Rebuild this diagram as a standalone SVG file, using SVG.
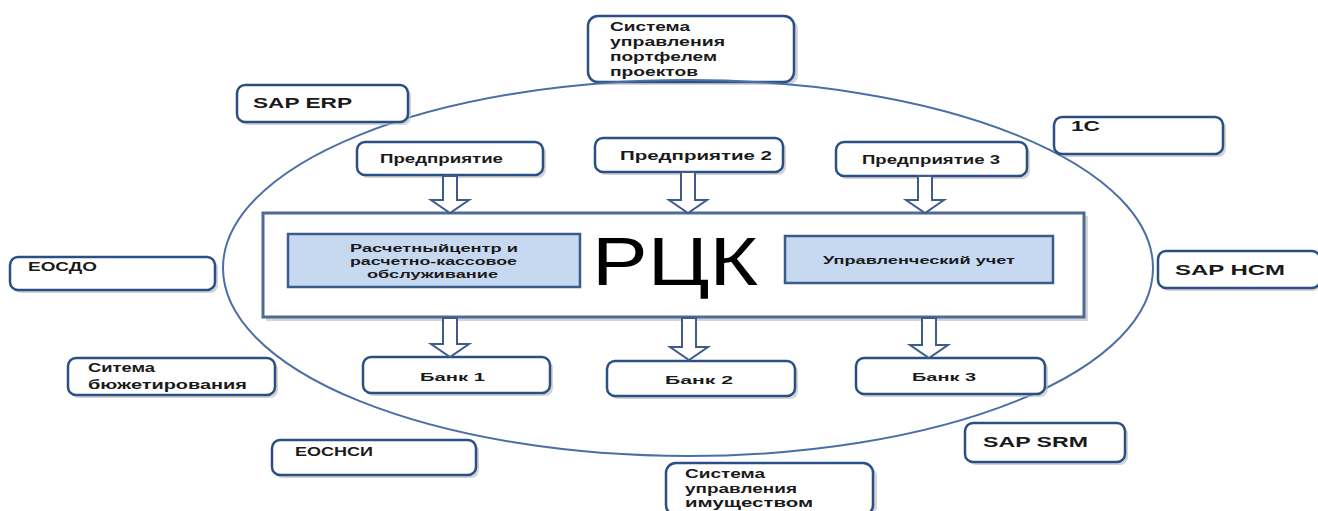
<svg xmlns="http://www.w3.org/2000/svg" width="1318" height="511" viewBox="0 0 1318 511">
<defs>
<style>
.box{fill:#ffffff;stroke:#2a4f86;stroke-width:2.5}
.shd{fill:#b8b8b8;opacity:0.6}
.t{font-family:"Liberation Sans",Arial,sans-serif;font-weight:bold;fill:#1a1a1a}
.s{font-size:12px}
.m{font-size:15px}
.blue{fill:#c6d9f1;stroke:#385d8a;stroke-width:2.5}
.arr{fill:#ffffff;stroke:#3e5c8a;stroke-width:2}
.ell{fill:none;stroke:#4a6fa5;stroke-width:2}
</style>
</defs>
<rect width="1318" height="511" fill="#ffffff"/>

<g id="node-portfolio">
<rect class="shd" x="591" y="19" width="207" height="66" rx="10"/>
<rect class="box" x="588" y="16" width="206" height="66" rx="10"/>
<text class="t s" x="610" y="31" textLength="80" lengthAdjust="spacingAndGlyphs">Система</text>
<text class="t s" x="610" y="46" textLength="115" lengthAdjust="spacingAndGlyphs">управления</text>
<text class="t s" x="610" y="61" textLength="107" lengthAdjust="spacingAndGlyphs">портфелем</text>
<text class="t s" x="610" y="76" textLength="88" lengthAdjust="spacingAndGlyphs">проектов</text>
</g>

<g id="node-property">
<rect class="shd" x="669" y="466" width="208" height="50" rx="10"/>
<rect class="box" x="666" y="463" width="207" height="52" rx="10"/>
<text class="t s" x="685" y="478" textLength="80" lengthAdjust="spacingAndGlyphs">Система</text>
<text class="t s" x="685" y="493" textLength="112" lengthAdjust="spacingAndGlyphs">управления</text>
<text class="t s" x="685" y="507" textLength="128" lengthAdjust="spacingAndGlyphs">имуществом</text>
</g>

<g id="ellipse">
<ellipse class="ell" cx="688" cy="268" rx="465" ry="188"/>
</g>

<g id="node-saperp">
<rect class="shd" x="240" y="88" width="171" height="37" rx="8"/>
<rect class="box" x="237" y="85" width="171" height="37" rx="8"/>
<text class="t m" x="253" y="108" textLength="99" lengthAdjust="spacingAndGlyphs">SAP ERP</text>
</g>

<g id="node-1c">
<rect class="shd" x="1057" y="120" width="169" height="37" rx="8"/>
<rect class="box" x="1054" y="117" width="169" height="37" rx="8"/>
<text class="t m" x="1071" y="131" textLength="29" lengthAdjust="spacingAndGlyphs">1С</text>
</g>

<g id="node-eosdo">
<rect class="shd" x="13" y="260" width="205" height="33" rx="8"/>
<rect class="box" x="10" y="257" width="205" height="33" rx="8"/>
<text class="t s" x="28" y="271" textLength="69" lengthAdjust="spacingAndGlyphs">ЕОСДО</text>
</g>

<g id="node-saphcm">
<rect class="shd" x="1161" y="254" width="160" height="37" rx="8"/>
<rect class="box" x="1158" y="251" width="162" height="37" rx="8"/>
<text class="t m" x="1175" y="275" textLength="110" lengthAdjust="spacingAndGlyphs">SAP HCM</text>
</g>

<g id="node-budget">
<rect class="shd" x="71" y="361" width="207" height="37" rx="8"/>
<rect class="box" x="68" y="358" width="207" height="37" rx="8"/>
<text class="t s" x="88" y="372" textLength="67" lengthAdjust="spacingAndGlyphs">Ситема</text>
<text class="t s" x="88" y="389" textLength="159" lengthAdjust="spacingAndGlyphs">бюжетирования</text>
</g>

<g id="node-eosnsi">
<rect class="shd" x="275" y="443" width="204" height="35" rx="8"/>
<rect class="box" x="272" y="440" width="204" height="35" rx="8"/>
<text class="t s" x="295" y="456" textLength="78" lengthAdjust="spacingAndGlyphs">ЕОСНСИ</text>
</g>

<g id="node-sapsrm">
<rect class="shd" x="968" y="426" width="160" height="39" rx="8"/>
<rect class="box" x="965" y="423" width="160" height="39" rx="8"/>
<text class="t m" x="983" y="447" textLength="105" lengthAdjust="spacingAndGlyphs">SAP SRM</text>
</g>

<g id="node-ent1">
<rect class="shd" x="360" y="145" width="186" height="33" rx="8"/>
<rect class="box" x="357" y="142" width="186" height="33" rx="8"/>
<text class="t s" x="380" y="163" textLength="123" lengthAdjust="spacingAndGlyphs">Предприятие</text>
</g>

<g id="node-ent2">
<rect class="shd" x="598" y="141" width="188" height="34" rx="8"/>
<rect class="box" x="595" y="138" width="188" height="34" rx="8"/>
<text class="t s" x="620" y="160" textLength="152" lengthAdjust="spacingAndGlyphs">Предприятие 2</text>
</g>

<g id="node-ent3">
<rect class="shd" x="839" y="145" width="191" height="34" rx="8"/>
<rect class="box" x="836" y="142" width="191" height="34" rx="8"/>
<text class="t s" x="862" y="164" textLength="138" lengthAdjust="spacingAndGlyphs">Предприятие 3</text>
</g>

<g id="node-rck">
<rect class="shd" x="266" y="216" width="822" height="105"/>
<rect x="263" y="213" width="821" height="104" fill="#ffffff" stroke="#4f6a94" stroke-width="3"/>
<text x="592" y="285" font-family="'Liberation Sans',Arial,sans-serif" font-size="68" fill="#000000" textLength="166" lengthAdjust="spacingAndGlyphs">РЦК</text>
</g>

<g id="node-settlement">
<rect class="blue" x="288" y="234" width="292" height="53"/>
<text class="t" font-size="11" x="350" y="252" textLength="168" lengthAdjust="spacingAndGlyphs">Расчетныйцентр и</text>
<text class="t" font-size="11" x="350" y="265" textLength="167" lengthAdjust="spacingAndGlyphs">расчетно-кассовое</text>
<text class="t" font-size="11" x="367" y="278" textLength="131" lengthAdjust="spacingAndGlyphs">обслуживание</text>
</g>

<g id="node-mgmt">
<rect class="blue" x="785" y="236" width="268" height="47"/>
<text class="t" font-size="11" x="823" y="264" textLength="192" lengthAdjust="spacingAndGlyphs">Управленческий учет</text>
</g>

<g id="node-bank1">
<rect class="shd" x="366" y="360" width="187" height="36" rx="8"/>
<rect class="box" x="363" y="357" width="187" height="36" rx="8"/>
<text class="t" font-size="11" x="420" y="381" textLength="65" lengthAdjust="spacingAndGlyphs">Банк 1</text>
</g>

<g id="node-bank2">
<rect class="shd" x="610" y="364" width="188" height="35" rx="8"/>
<rect class="box" x="607" y="361" width="188" height="35" rx="8"/>
<text class="t" font-size="11" x="665" y="384" textLength="68" lengthAdjust="spacingAndGlyphs">Банк 2</text>
</g>

<g id="node-bank3">
<rect class="shd" x="859" y="361" width="189" height="36" rx="8"/>
<rect class="box" x="856" y="358" width="189" height="36" rx="8"/>
<text class="t" font-size="11" x="912" y="381" textLength="64" lengthAdjust="spacingAndGlyphs">Банк 3</text>
</g>

<g id="connectors">
<path class="arr" d="M443,176 L457,176 L457,200 L469,200 L450,213 L431,200 L443,200 Z"/>
<path class="arr" d="M681,172 L695,172 L695,200 L707,200 L688,213 L669,200 L681,200 Z"/>
<path class="arr" d="M918,176 L932,176 L932,200 L944,200 L925,213 L906,200 L918,200 Z"/>
<path class="arr" d="M443,318 L457,318 L457,344 L469,344 L450,357 L431,344 L443,344 Z"/>
<path class="arr" d="M682,318 L696,318 L696,347 L708,347 L689,360 L670,347 L682,347 Z"/>
<path class="arr" d="M922,318 L936,318 L936,345 L948,345 L929,358 L910,345 L922,345 Z"/>
</g>
</svg>
